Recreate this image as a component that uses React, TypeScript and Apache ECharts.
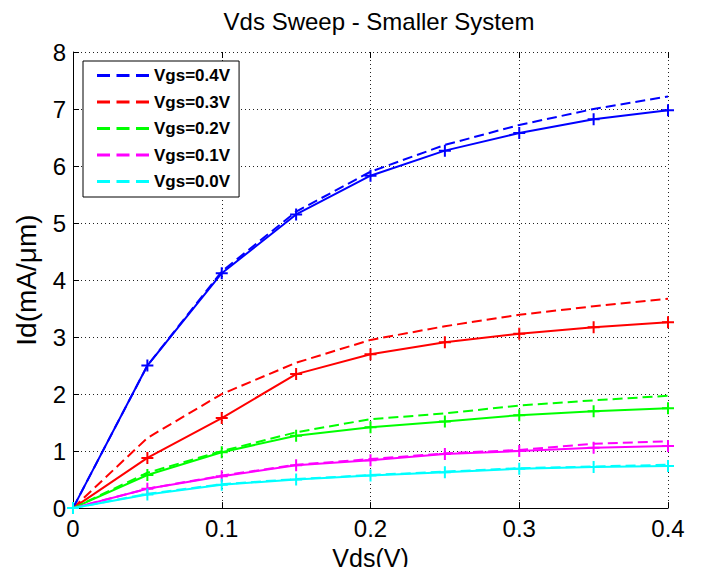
import React, { useEffect, useRef } from "react";
import * as echarts from "echarts";

const vds = [0, 0.05, 0.1, 0.15, 0.2, 0.25, 0.3, 0.35, 0.4];

const legendNames = ["Vgs=0.4V", "Vgs=0.3V", "Vgs=0.2V", "Vgs=0.1V", "Vgs=0.0V"];
const colors = ["#0000ff", "#ff0000", "#00ff00", "#ff00ff", "#00ffff"];

// dashed (reference) curves
const dash04 = [0, 2.5, 4.15, 5.2, 5.9, 6.37, 6.72, 7.0, 7.22];
const dash03 = [0, 1.23, 2.0, 2.55, 2.95, 3.19, 3.39, 3.54, 3.67];
const dash02 = [0, 0.62, 1.0, 1.33, 1.56, 1.66, 1.8, 1.89, 1.97];
const dash01 = [0, 0.34, 0.57, 0.76, 0.86, 0.96, 1.02, 1.13, 1.17];
const dash00 = [0, 0.25, 0.42, 0.51, 0.58, 0.64, 0.7, 0.73, 0.76];

// solid (smaller system) curves with + markers
const solid04 = [0, 2.5, 4.12, 5.15, 5.83, 6.27, 6.58, 6.82, 6.98];
const solid03 = [0, 0.88, 1.58, 2.35, 2.7, 2.91, 3.06, 3.17, 3.26];
const solid02 = [0, 0.58, 0.98, 1.27, 1.42, 1.52, 1.63, 1.7, 1.75];
const solid01 = [0, 0.34, 0.56, 0.75, 0.84, 0.95, 1.0, 1.06, 1.09];
const solid00 = [0, 0.24, 0.41, 0.5, 0.57, 0.63, 0.69, 0.72, 0.74];

const yTicks = [0, 1, 2, 3, 4, 5, 6, 7, 8];

const dashSets = [dash04, dash03, dash02, dash01, dash00];
const solidSets = [solid04, solid03, solid02, solid01, solid00];

const PLUS = "path://M5,0 H7 V5 H12 V7 H7 V12 H5 V7 H0 V5 H5 Z";
const DASH_ICON = "path://M0,0 H13 V3 H0 Z M19.5,0 H32.5 V3 H19.5 Z M39,0 H52 V3 H39 Z";

const FONT = "'Liberation Sans', Arial, sans-serif";

export default function App() {
  const ref = useRef<HTMLDivElement>(null);
  useEffect(() => {
    if (!ref.current) return;
    const chart = echarts.init(ref.current, undefined, { renderer: "svg" });
    const series: any[] = [];
    dashSets.forEach((d, i) => {
      series.push({
        name: legendNames[i],
        type: "line",
        data: vds.map((x, k) => [x, d[k]]),
        symbol: "none",
        lineStyle: { color: colors[i], width: 2, type: [10, 5] },
        itemStyle: { color: colors[i] },
        z: 3,
      });
    });
    solidSets.forEach((d, i) => {
      series.push({
        name: legendNames[i] + " model",
        type: "line",
        data: vds.map((x, k) => [x, d[k]]),
        symbol: PLUS,
        symbolSize: 12,
        showAllSymbol: true,
        lineStyle: { color: colors[i], width: 2 },
        itemStyle: { color: colors[i] },
        z: 3,
      });
    });

    chart.setOption({
      animation: false,
      backgroundColor: "#ffffff",
      title: {
        text: "Vds Sweep - Smaller System",
        left: 374,
        textAlign: "center",
        top: 4,
        textStyle: { fontFamily: FONT, fontSize: 24, fontWeight: "normal", color: "#000" },
      },
      grid: { left: 73, right: 44, top: 52, bottom: 63, containLabel: false },
      legend: {
        data: legendNames,
        orient: "vertical",
        left: 83,
        top: 61,
        backgroundColor: "#ffffff",
        borderColor: "#000",
        borderWidth: 1,
        borderRadius: 0,
        padding: [6, 9, 7, 14],
        itemWidth: 52,
        itemHeight: 3,
        itemGap: 9.5,
        icon: DASH_ICON,
        textStyle: { fontFamily: FONT, fontSize: 17, fontWeight: "bold", color: "#000", lineHeight: 17 },
        selectedMode: false,
      },
      xAxis: [
        {
          type: "value",
          min: 0,
          max: 0.4,
          interval: 0.1,
          name: "Vds(V)",
          nameLocation: "middle",
          nameGap: 35,
          nameTextStyle: { fontFamily: FONT, fontSize: 25, color: "#000" },
          axisLine: { show: true, lineStyle: { color: "#000", width: 1 } },
          axisTick: { show: true, inside: true, length: 6, lineStyle: { color: "#000" } },
          axisLabel: { fontFamily: FONT, fontSize: 24, color: "#000", margin: 8 },
          splitLine: { show: true, lineStyle: { color: "#222", type: [1, 3], width: 1 } },
        },
        {
          type: "value",
          position: "top",
          min: 0,
          max: 0.4,
          interval: 0.1,
          axisLine: { show: false },
          axisTick: { show: true, inside: true, length: 6, lineStyle: { color: "#000" } },
          axisLabel: { show: false },
          splitLine: { show: false },
        },
      ],
      yAxis: {
        type: "value",
        min: yTicks[0],
        max: yTicks[yTicks.length - 1],
        interval: 1,
        name: "Id(mA/\u03bcm)",
        nameLocation: "middle",
        nameGap: 33,
        nameTextStyle: { fontFamily: FONT, fontSize: 28, color: "#000" },
        axisLine: { show: true, lineStyle: { color: "#000", width: 1 } },
        axisTick: { show: true, inside: true, length: 6, lineStyle: { color: "#000" } },
        axisLabel: { fontFamily: FONT, fontSize: 24, color: "#000", margin: 7 },
        splitLine: { show: true, lineStyle: { color: "#222", type: [1, 3], width: 1 } },
      },
      series,
    });
    return () => chart.dispose();
  }, []);
  return <div ref={ref} style={{ width: 712, height: 575, margin: -8 }} />;
}
